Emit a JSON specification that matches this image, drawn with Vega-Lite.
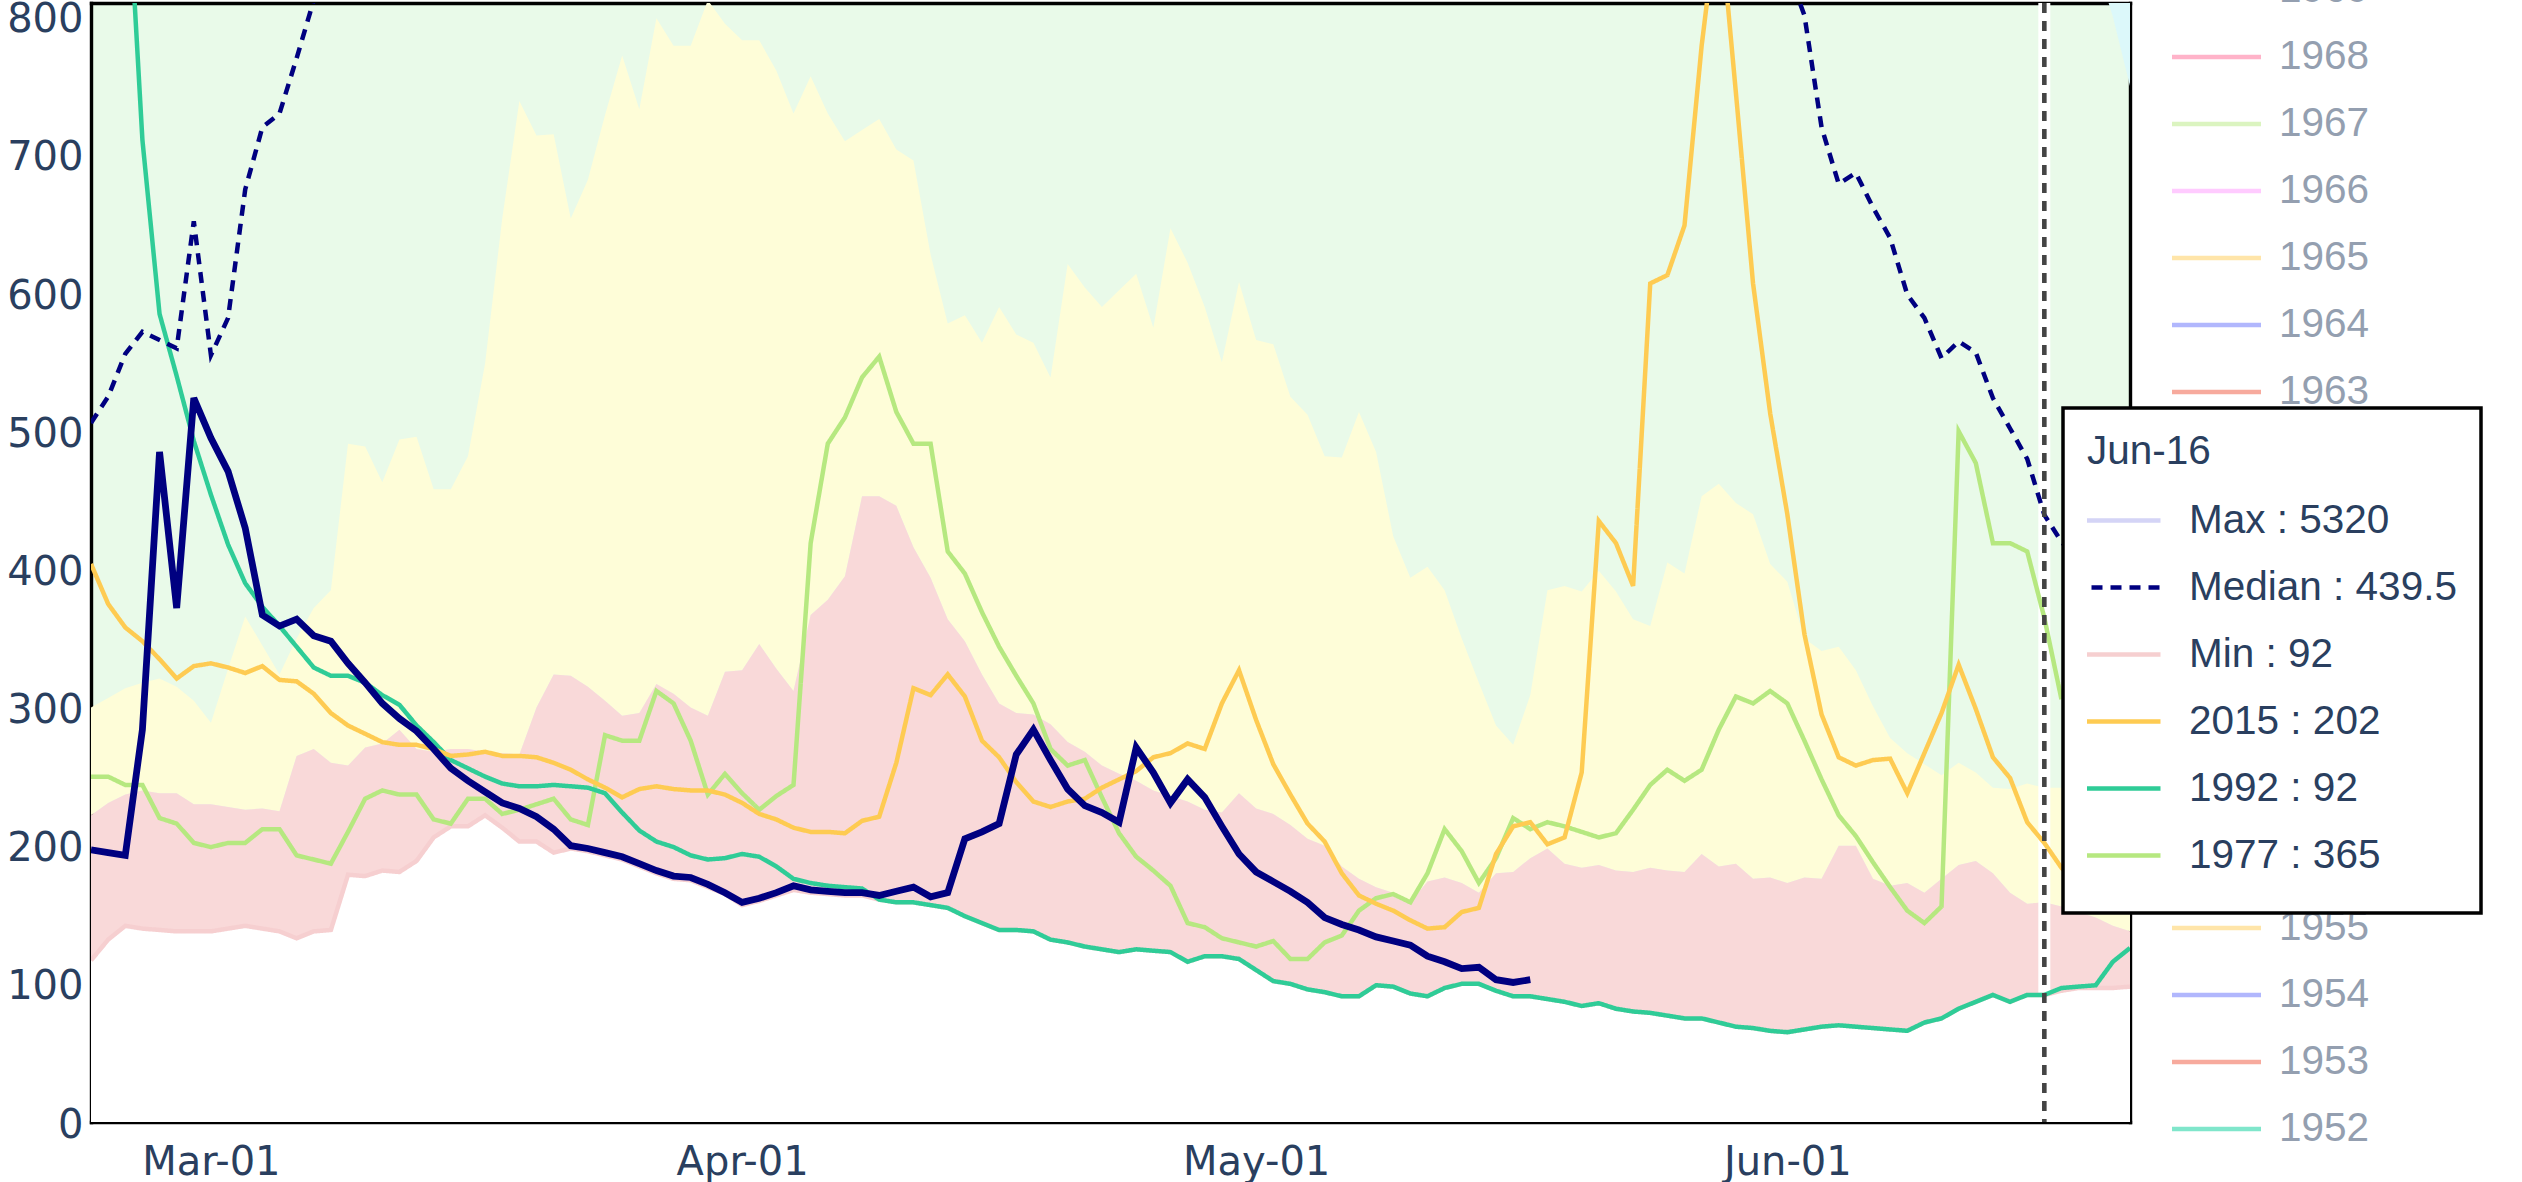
{
  "$schema": "https://vega.github.io/schema/vega-lite/v6.json",
  "width": 2039,
  "height": 1119,
  "autosize": {"type": "none"},
  "padding": {"left": 91, "top": 3, "right": 392, "bottom": 60},
  "background": "white",
  "config": {
    "view": {"fill": "#e9fae9", "stroke": null},
    "axis": {"grid": false, "ticks": false, "tickSize": 0, "domainColor": "#000000", "domainWidth": 3.4, "domainCap": "square", "labelFont": "DejaVu Sans", "labelFontSize": 40, "labelColor": "#2a3f5f", "zindex": 1, "title": null}
  },
  "datasets": {
    "marker": [{"date": "2021-06-16"}],
    "years": [{"year": "1969"}, {"year": "1968"}, {"year": "1967"}, {"year": "1966"}, {"year": "1965"}, {"year": "1964"}, {"year": "1963"}, {"year": "1962"}, {"year": "1961"}, {"year": "1960"}, {"year": "1959"}, {"year": "1958"}, {"year": "1957"}, {"year": "1956"}, {"year": "1955"}, {"year": "1954"}, {"year": "1953"}, {"year": "1952"}],
    "daily": [
      {"date": "2021-02-22", "Min": 117, "P10": 222, "P25": 300, "Median": 506, "2015": 404, "1977": 250, "Current": 197},
      {"date": "2021-02-23", "Min": 132, "P10": 231, "P25": 307, "Median": 525, "2015": 375, "1977": 250, "Current": 195},
      {"date": "2021-02-24", "Min": 142, "P10": 237, "P25": 314, "Median": 556, "2015": 358, "1992": 930, "1977": 244, "Current": 193},
      {"date": "2021-02-25", "Min": 140, "P10": 240, "P25": 318, "Median": 572, "2015": 348, "1992": 711, "1977": 244, "Current": 284},
      {"date": "2021-02-26", "Min": 139, "P10": 238, "P25": 321, "Median": 566, "2015": 335, "1992": 585, "1977": 220, "Current": 485},
      {"date": "2021-02-27", "Min": 138, "P10": 238, "P25": 315, "Median": 560, "2015": 321, "1992": 540, "1977": 216, "Current": 372},
      {"date": "2021-02-28", "Min": 138, "P10": 230, "P25": 305, "Median": 652, "2015": 330, "1992": 493, "1977": 202, "Current": 524},
      {"date": "2021-03-01", "Min": 138, "P10": 230, "P25": 289, "Median": 555, "2015": 332, "1992": 454, "1977": 199, "Current": 495},
      {"date": "2021-03-02", "Min": 140, "P10": 228, "P25": 328, "Median": 582, "2015": 329, "1992": 418, "1977": 202, "Current": 471},
      {"date": "2021-03-03", "Min": 142, "P10": 226, "P25": 366, "Median": 675, "2015": 325, "1992": 390, "1977": 202, "Current": 430},
      {"date": "2021-03-04", "Min": 140, "P10": 227, "P25": 345, "Median": 720, "2015": 330, "1992": 373, "1977": 212, "Current": 367},
      {"date": "2021-03-05", "Min": 138, "P10": 225, "P25": 324, "Median": 730, "2015": 320, "1992": 359, "1977": 212, "Current": 359},
      {"date": "2021-03-06", "Min": 133, "P10": 265, "P25": 350, "Median": 770, "2015": 319, "1992": 344, "1977": 193, "Current": 364},
      {"date": "2021-03-07", "Min": 138, "P10": 270, "P25": 372, "Median": 812, "2015": 310, "1992": 329, "1977": 190, "Current": 352},
      {"date": "2021-03-08", "Min": 139, "P10": 260, "P25": 385, "Median": 860, "2015": 296, "1992": 323, "1977": 187, "Current": 348},
      {"date": "2021-03-09", "Min": 179, "P10": 258, "P25": 491, "2015": 287, "1992": 323, "1977": 210, "Current": 332},
      {"date": "2021-03-10", "Min": 178, "P10": 271, "P25": 489, "2015": 281, "1992": 318, "1977": 234, "Current": 318},
      {"date": "2021-03-11", "Min": 182, "P10": 274, "P25": 463, "2015": 275, "1992": 309, "1977": 240, "Current": 303},
      {"date": "2021-03-12", "Min": 181, "P10": 284, "P25": 494, "2015": 273, "1992": 302, "1977": 237, "Current": 292},
      {"date": "2021-03-13", "Min": 189, "P10": 270, "P25": 496, "2015": 273, "1992": 287, "1977": 237, "Current": 283},
      {"date": "2021-03-14", "Min": 206, "P10": 268, "P25": 458, "2015": 270, "1992": 275, "1977": 219, "Current": 270},
      {"date": "2021-03-15", "Min": 214, "P10": 270, "P25": 458, "2015": 265, "1992": 262, "1977": 216, "Current": 256},
      {"date": "2021-03-16", "Min": 214, "P10": 270, "P25": 482, "2015": 266, "1992": 256, "1977": 234, "Current": 247},
      {"date": "2021-03-17", "Min": 222, "P10": 268, "P25": 549, "2015": 268, "1992": 250, "1977": 234, "Current": 239},
      {"date": "2021-03-18", "Min": 213, "P10": 267, "P25": 654, "2015": 265, "1992": 245, "1977": 223, "Current": 231},
      {"date": "2021-03-19", "Min": 203, "P10": 266, "P25": 739, "2015": 265, "1992": 243, "1977": 226, "Current": 227},
      {"date": "2021-03-20", "Min": 203, "P10": 300, "P25": 714, "2015": 264, "1992": 243, "1977": 230, "Current": 221},
      {"date": "2021-03-21", "Min": 195, "P10": 324, "P25": 715, "2015": 260, "1992": 244, "1977": 234, "Current": 212},
      {"date": "2021-03-22", "Min": 198, "P10": 323, "P25": 654, "2015": 255, "1992": 243, "1977": 219, "Current": 200},
      {"date": "2021-03-23", "Min": 196, "P10": 315, "P25": 682, "2015": 248, "1992": 242, "1977": 215, "Current": 198},
      {"date": "2021-03-24", "Min": 193, "P10": 305, "P25": 729, "2015": 242, "1992": 238, "1977": 280, "Current": 195},
      {"date": "2021-03-25", "Min": 190, "P10": 294, "P25": 772, "2015": 235, "1992": 224, "1977": 276, "Current": 192},
      {"date": "2021-03-26", "Min": 185, "P10": 296, "P25": 733, "2015": 241, "1992": 211, "1977": 276, "Current": 187},
      {"date": "2021-03-27", "Min": 180, "P10": 317, "P25": 799, "2015": 243, "1992": 203, "1977": 312, "Current": 182},
      {"date": "2021-03-28", "Min": 176, "P10": 310, "P25": 779, "2015": 241, "1992": 199, "1977": 303, "Current": 178},
      {"date": "2021-03-29", "Min": 175, "P10": 300, "P25": 779, "2015": 240, "1992": 193, "1977": 276, "Current": 177},
      {"date": "2021-03-30", "Min": 170, "P10": 294, "P25": 812, "2015": 240, "1992": 190, "1977": 237, "Current": 172},
      {"date": "2021-03-31", "Min": 165, "P10": 326, "P25": 795, "2015": 237, "1992": 191, "1977": 252, "Current": 166},
      {"date": "2021-04-01", "Min": 157, "P10": 327, "P25": 783, "2015": 231, "1992": 194, "1977": 238, "Current": 159},
      {"date": "2021-04-02", "Min": 160, "P10": 346, "P25": 783, "2015": 223, "1992": 192, "1977": 226, "Current": 162},
      {"date": "2021-04-03", "Min": 164, "P10": 328, "P25": 761, "2015": 219, "1992": 185, "1977": 236, "Current": 166},
      {"date": "2021-04-04", "Min": 168, "P10": 312, "P25": 730, "2015": 213, "1992": 176, "1977": 244, "Current": 171},
      {"date": "2021-04-05", "Min": 166, "P10": 367, "P25": 757, "2015": 210, "1992": 173, "1977": 419, "Current": 168},
      {"date": "2021-04-06", "Min": 165, "P10": 378, "P25": 730, "2015": 210, "1992": 171, "1977": 491, "Current": 167},
      {"date": "2021-04-07", "Min": 164, "P10": 395, "P25": 710, "2015": 209, "1992": 170, "1977": 510, "Current": 166},
      {"date": "2021-04-08", "Min": 164, "P10": 453, "P25": 718, "2015": 218, "1992": 169, "1977": 539, "Current": 166},
      {"date": "2021-04-09", "Min": 161, "P10": 453, "P25": 726, "2015": 221, "1992": 161, "1977": 554, "Current": 164},
      {"date": "2021-04-10", "Min": 159, "P10": 446, "P25": 704, "2015": 260, "1992": 159, "1977": 514, "Current": 167},
      {"date": "2021-04-11", "Min": 159, "P10": 416, "P25": 696, "2015": 314, "1992": 159, "1977": 491, "Current": 170},
      {"date": "2021-04-12", "Min": 157, "P10": 394, "P25": 628, "2015": 309, "1992": 157, "1977": 491, "Current": 163},
      {"date": "2021-04-13", "Min": 155, "P10": 364, "P25": 578, "2015": 324, "1992": 155, "1977": 413, "Current": 166},
      {"date": "2021-04-14", "Min": 149, "P10": 348, "P25": 584, "2015": 308, "1992": 149, "1977": 397, "Current": 205},
      {"date": "2021-04-15", "Min": 144, "P10": 324, "P25": 564, "2015": 276, "1992": 144, "1977": 369, "Current": 210},
      {"date": "2021-04-16", "Min": 139, "P10": 303, "P25": 590, "2015": 264, "1992": 139, "1977": 344, "Current": 216},
      {"date": "2021-04-17", "Min": 139, "P10": 296, "P25": 570, "2015": 246, "1992": 139, "1977": 323, "Current": 266},
      {"date": "2021-04-18", "Min": 138, "P10": 295, "P25": 564, "2015": 232, "1992": 138, "1977": 303, "Current": 284},
      {"date": "2021-04-19", "Min": 132, "P10": 288, "P25": 539, "2015": 228, "1992": 132, "1977": 270, "Current": 262},
      {"date": "2021-04-20", "Min": 130, "P10": 275, "P25": 621, "2015": 232, "1992": 130, "1977": 258, "Current": 241},
      {"date": "2021-04-21", "Min": 127, "P10": 268, "P25": 604, "2015": 234, "1992": 127, "1977": 262, "Current": 229},
      {"date": "2021-04-22", "Min": 125, "P10": 258, "P25": 590, "2015": 242, "1992": 125, "1977": 235, "Current": 224},
      {"date": "2021-04-23", "Min": 123, "P10": 252, "P25": 602, "2015": 248, "1992": 123, "1977": 209, "Current": 217},
      {"date": "2021-04-24", "Min": 125, "P10": 247, "P25": 614, "2015": 254, "1992": 125, "1977": 192, "Current": 271},
      {"date": "2021-04-25", "Min": 124, "P10": 240, "P25": 575, "2015": 264, "1992": 124, "1977": 182, "Current": 253},
      {"date": "2021-04-26", "Min": 123, "P10": 236, "P25": 647, "2015": 267, "1992": 123, "1977": 171, "Current": 231},
      {"date": "2021-04-27", "Min": 116, "P10": 232, "P25": 622, "2015": 274, "1992": 116, "1977": 144, "Current": 248},
      {"date": "2021-04-28", "Min": 120, "P10": 226, "P25": 590, "2015": 270, "1992": 120, "1977": 141, "Current": 235},
      {"date": "2021-04-29", "Min": 120, "P10": 224, "P25": 550, "2015": 303, "1992": 120, "1977": 133, "Current": 214},
      {"date": "2021-04-30", "Min": 118, "P10": 238, "P25": 608, "2015": 327, "1992": 118, "1977": 130, "Current": 194},
      {"date": "2021-05-01", "Min": 110, "P10": 227, "P25": 566, "2015": 291, "1992": 110, "1977": 127, "Current": 181},
      {"date": "2021-05-02", "Min": 102, "P10": 223, "P25": 563, "2015": 259, "1992": 102, "1977": 131, "Current": 174},
      {"date": "2021-05-03", "Min": 100, "P10": 215, "P25": 525, "2015": 237, "1992": 100, "1977": 118, "Current": 167},
      {"date": "2021-05-04", "Min": 96, "P10": 205, "P25": 512, "2015": 216, "1992": 96, "1977": 118, "Current": 159},
      {"date": "2021-05-05", "Min": 94, "P10": 200, "P25": 482, "2015": 203, "1992": 94, "1977": 130, "Current": 148},
      {"date": "2021-05-06", "Min": 91, "P10": 185, "P25": 481, "2015": 180, "1992": 91, "1977": 135, "Current": 143},
      {"date": "2021-05-07", "Min": 91, "P10": 176, "P25": 514, "2015": 164, "1992": 91, "1977": 153, "Current": 139},
      {"date": "2021-05-08", "Min": 99, "P10": 170, "P25": 485, "2015": 158, "1992": 99, "1977": 162, "Current": 134},
      {"date": "2021-05-09", "Min": 98, "P10": 166, "P25": 424, "2015": 153, "1992": 98, "1977": 165, "Current": 131},
      {"date": "2021-05-10", "Min": 93, "P10": 159, "P25": 394, "2015": 146, "1992": 93, "1977": 159, "Current": 128},
      {"date": "2021-05-11", "Min": 91, "P10": 174, "P25": 402, "2015": 140, "1992": 91, "1977": 180, "Current": 120},
      {"date": "2021-05-12", "Min": 97, "P10": 177, "P25": 385, "2015": 141, "1992": 97, "1977": 212, "Current": 116},
      {"date": "2021-05-13", "Min": 100, "P10": 173, "P25": 350, "2015": 152, "1992": 100, "1977": 196, "Current": 111},
      {"date": "2021-05-14", "Min": 100, "P10": 166, "P25": 318, "2015": 155, "1992": 100, "1977": 173, "Current": 112},
      {"date": "2021-05-15", "Min": 95, "P10": 180, "P25": 287, "2015": 194, "1992": 95, "1977": 191, "Current": 103},
      {"date": "2021-05-16", "Min": 91, "P10": 181, "P25": 273, "2015": 214, "1992": 91, "1977": 220, "Current": 101},
      {"date": "2021-05-17", "Min": 91, "P10": 191, "P25": 309, "2015": 217, "1992": 91, "1977": 212, "Current": 103},
      {"date": "2021-05-18", "Min": 89, "P10": 198, "P25": 385, "2015": 201, "1992": 89, "1977": 217},
      {"date": "2021-05-19", "Min": 87, "P10": 187, "P25": 388, "2015": 206, "1992": 87, "1977": 214},
      {"date": "2021-05-20", "Min": 84, "P10": 184, "P25": 384, "2015": 253, "1992": 84, "1977": 210},
      {"date": "2021-05-21", "Min": 86, "P10": 186, "P25": 399, "2015": 435, "1992": 86, "1977": 206},
      {"date": "2021-05-22", "Min": 82, "P10": 182, "P25": 384, "2015": 419, "1992": 82, "1977": 209},
      {"date": "2021-05-23", "Min": 80, "P10": 181, "P25": 364, "2015": 388, "1992": 80, "1977": 226},
      {"date": "2021-05-24", "Min": 79, "P10": 184, "P25": 359, "2015": 607, "1992": 79, "1977": 244},
      {"date": "2021-05-25", "Min": 77, "P10": 182, "P25": 405, "2015": 613, "1992": 77, "1977": 255},
      {"date": "2021-05-26", "Min": 75, "P10": 181, "P25": 397, "2015": 649, "1992": 75, "1977": 247},
      {"date": "2021-05-27", "Min": 75, "P10": 194, "P25": 453, "2015": 779, "1992": 75, "1977": 255},
      {"date": "2021-05-28", "Min": 72, "P10": 185, "P25": 462, "2015": 880, "1992": 72, "1977": 284},
      {"date": "2021-05-29", "Min": 69, "P10": 187, "P25": 448, "2015": 745, "1992": 69, "1977": 308},
      {"date": "2021-05-30", "Min": 68, "P10": 176, "P25": 440, "2015": 607, "1992": 68, "1977": 303},
      {"date": "2021-05-31", "Min": 66, "P10": 177, "P25": 404, "2015": 513, "1992": 66, "1977": 312},
      {"date": "2021-06-01", "Min": 65, "P10": 173, "P25": 391, "Median": 835, "2015": 440, "1992": 65, "1977": 303},
      {"date": "2021-06-02", "Min": 67, "P10": 177, "P25": 350, "Median": 801, "2015": 353, "1992": 67, "1977": 276},
      {"date": "2021-06-03", "Min": 69, "P10": 176, "P25": 341, "Median": 720, "2015": 295, "1992": 69, "1977": 248},
      {"date": "2021-06-04", "Min": 70, "P10": 200, "P25": 344, "Median": 679, "2015": 264, "1992": 70, "1977": 222},
      {"date": "2021-06-05", "Min": 69, "P10": 200, "P25": 327, "Median": 687, "2015": 258, "1992": 69, "1977": 207},
      {"date": "2021-06-06", "Min": 68, "P10": 176, "P25": 301, "Median": 662, "2015": 262, "1992": 68, "1977": 188},
      {"date": "2021-06-07", "Min": 67, "P10": 171, "P25": 278, "Median": 640, "2015": 263, "1992": 67, "1977": 170},
      {"date": "2021-06-08", "Min": 66, "P10": 173, "P25": 267, "Median": 599, "2015": 238, "1992": 66, "1977": 153},
      {"date": "2021-06-09", "Min": 72, "P10": 166, "P25": 259, "Median": 582, "2015": 267, "1992": 72, "1977": 144},
      {"date": "2021-06-10", "Min": 75, "P10": 176, "P25": 251, "Median": 553, "2015": 296, "1992": 75, "1977": 156},
      {"date": "2021-06-11", "Min": 82, "P10": 186, "P25": 260, "Median": 565, "2015": 331, "1992": 82, "1977": 500},
      {"date": "2021-06-12", "Min": 87, "P10": 189, "P25": 253, "Median": 557, "2015": 299, "1992": 87, "1977": 477},
      {"date": "2021-06-13", "Min": 92, "P10": 180, "P25": 242, "Median": 524, "2015": 264, "1992": 92, "1977": 419},
      {"date": "2021-06-14", "Min": 87, "P10": 166, "P25": 241, "Median": 502, "2015": 249, "1992": 87, "1977": 419},
      {"date": "2021-06-15", "Min": 92, "P10": 158, "P25": 245, "Median": 480, "2015": 217, "1992": 92, "1977": 413},
      {"date": "2021-06-16", "Min": 92, "P10": 159, "P25": 242, "Median": 439.5, "2015": 202, "1992": 92, "1977": 365, "Max": 5320},
      {"date": "2021-06-17", "Min": 95, "P10": 156, "P25": 242, "Median": 420, "2015": 184, "1992": 97, "1977": 306},
      {"date": "2021-06-18", "Min": 97, "P10": 152, "P25": 243, "Median": 405, "2015": 172, "1992": 98, "P75": 860, "Max": 5100},
      {"date": "2021-06-19", "Min": 97, "P10": 148, "P25": 244, "Median": 395, "2015": 163, "1992": 99, "P75": 840, "Max": 4900},
      {"date": "2021-06-20", "Min": 97, "P10": 142, "P25": 244, "Median": 385, "2015": 157, "1992": 116, "P75": 800, "Max": 4700},
      {"date": "2021-06-21", "Min": 98, "P10": 138, "P25": 245, "Median": 375, "2015": 152, "1992": 126, "P75": 750, "Max": 4500}
    ]
  },
  "layer": [
    {
      "data": {"name": "daily"},
      "mark": {"type": "area", "color": "#fefdd8", "clip": true},
      "encoding": {
        "x": {"field": "date", "type": "temporal",
          "scale": {"type": "utc", "domain": [{"year": 2021, "month": 2, "date": 22, "utc": true}, {"year": 2021, "month": 6, "date": 21, "utc": true}], "nice": false},
          "axis": {"orient": "bottom", "values": [{"year": 2021, "month": 3, "date": 1, "utc": true}, {"year": 2021, "month": 4, "date": 1, "utc": true}, {"year": 2021, "month": 5, "date": 1, "utc": true}, {"year": 2021, "month": 6, "date": 1, "utc": true}], "format": "%b-%d", "labelPadding": 20, "labelFlush": false, "labelOverlap": false}},
        "y": {"field": "P25", "type": "quantitative",
          "scale": {"domain": [0, 810], "nice": false, "zero": false},
          "axis": {"orient": "left", "values": [0, 100, 200, 300, 400, 500, 600, 700, 800], "labelPadding": 8, "labelOffset": 3}},
        "y2": {"field": "P10"}
      }
    },
    {
      "data": {"name": "daily"},
      "mark": {"type": "area", "color": "#f9d9d9", "clip": true},
      "encoding": {
        "x": {"field": "date", "type": "temporal", "axis": {"orient": "top", "labels": false, "domain": true}},
        "y": {"field": "P10", "type": "quantitative", "axis": {"orient": "right", "labels": false, "domain": true}},
        "y2": {"field": "Min"}
      }
    },
    {
      "data": {"name": "daily"},
      "mark": {"type": "area", "color": "#ffffff", "clip": true},
      "encoding": {
        "x": {"field": "date", "type": "temporal", "axis": null},
        "y": {"field": "Min", "type": "quantitative", "axis": null},
        "y2": {"datum": 0}
      }
    },
    {
      "data": {"name": "daily"},
      "mark": {"type": "area", "color": "#dcf8fa", "clip": true},
      "encoding": {
        "x": {"field": "date", "type": "temporal", "axis": null},
        "y": {"field": "Max", "type": "quantitative", "axis": null},
        "y2": {"field": "P75"}
      }
    },
    {
      "data": {"name": "marker"},
      "mark": {"type": "rule", "color": "#ffffff", "strokeWidth": 12},
      "encoding": {"x": {"field": "date", "type": "temporal", "axis": null}}
    },
    {
      "data": {"name": "daily"},
      "transform": [{"fold": ["Min", "Max", "1977", "1992", "2015", "Median"], "as": ["series", "value"]}],
      "mark": {"type": "line", "strokeWidth": 4.5, "clip": true},
      "encoding": {
        "x": {"field": "date", "type": "temporal", "axis": null},
        "y": {"field": "value", "type": "quantitative", "axis": null},
        "color": {"field": "series", "type": "nominal",
          "scale": {"domain": ["Max", "Median", "Min", "2015", "1992", "1977"], "range": ["#d4d4f6", "#000080", "#f6cfd0", "#fecb52", "#2fcc97", "#b6e880"]},
          "legend": {"orient": "none", "legendX": 1972, "legendY": 405, "zindex": 2, "title": "Jun-16", "titleFont": "Liberation Sans", "titleFontSize": 40.5, "titleFontWeight": "normal", "titleColor": "#2a3f5f", "titlePadding": 15, "symbolType": "stroke", "symbolSize": 7744, "symbolStrokeWidth": 4.5, "symbolOffset": -17, "labelFont": "Liberation Sans", "labelFontSize": 40.5, "labelColor": "#2a3f5f", "labelOffset": 26, "labelLimit": 600, "clipHeight": 66.2, "rowPadding": 0, "padding": 24, "fillColor": "#ffffff", "strokeColor": "#000000",
            "labelExpr": "{'Max': 'Max : 5320', 'Median': 'Median : 439.5', 'Min': 'Min : 92', '2015': '2015 : 202', '1992': '1992 : 92', '1977': '1977 : 365'}[datum.label]",
            "encode": {"legend": {"update": {"strokeWidth": {"value": 3.5}}}}}},
        "strokeDash": {"field": "series", "type": "nominal",
          "scale": {"domain": ["Max", "Median", "Min", "2015", "1992", "1977"], "range": [[1, 0], [11, 8], [1, 0], [1, 0], [1, 0], [1, 0]]},
          "legend": {"orient": "none", "legendX": 1972, "legendY": 405, "zindex": 2, "title": "Jun-16", "titleFont": "Liberation Sans", "titleFontSize": 40.5, "titleFontWeight": "normal", "titleColor": "#2a3f5f", "titlePadding": 15, "symbolType": "stroke", "symbolSize": 7744, "symbolStrokeWidth": 4.5, "symbolOffset": -17, "labelFont": "Liberation Sans", "labelFontSize": 40.5, "labelColor": "#2a3f5f", "labelOffset": 26, "labelLimit": 600, "clipHeight": 66.2, "rowPadding": 0, "padding": 24, "fillColor": "#ffffff", "strokeColor": "#000000",
            "labelExpr": "{'Max': 'Max : 5320', 'Median': 'Median : 439.5', 'Min': 'Min : 92', '2015': '2015 : 202', '1992': '1992 : 92', '1977': '1977 : 365'}[datum.label]",
            "encode": {"legend": {"update": {"strokeWidth": {"value": 3.5}}}}}}
      }
    },
    {
      "data": {"name": "daily"},
      "mark": {"type": "line", "color": "#000080", "strokeWidth": 6.8, "clip": true},
      "encoding": {
        "x": {"field": "date", "type": "temporal", "axis": null},
        "y": {"field": "Current", "type": "quantitative", "axis": null}
      }
    },
    {
      "data": {"name": "marker"},
      "mark": {"type": "rule", "color": "#444444", "strokeWidth": 4.6, "strokeDash": [10, 8]},
      "encoding": {"x": {"field": "date", "type": "temporal", "axis": null}}
    },
    {
      "data": {"name": "years"},
      "mark": {"type": "line", "strokeWidth": 4.5, "clip": true},
      "encoding": {
        "x": {"field": "date", "type": "temporal", "axis": null},
        "y": {"field": "value", "type": "quantitative", "axis": null},
        "stroke": {"field": "year", "type": "nominal",
          "scale": {"domain": ["1969", "1968", "1967", "1966", "1965", "1964", "1963", "1962", "1961", "1960", "1959", "1958", "1957", "1956", "1955", "1954", "1953", "1952"],
            "range": ["#8ce9f9", "#ffb3c9", "#dbf4c0", "#ffcbff", "#ffe5a9", "#b1b7fd", "#f7aa9d", "#80e6cb", "#d5b1fd", "#ffd0ad", "#8ce9f9", "#ffb3c9", "#dbf4c0", "#ffcbff", "#ffe5a9", "#b1b7fd", "#f7aa9d", "#80e6cb"]},
          "legend": {"orient": "none", "legendX": 2078.5, "legendY": -46, "zindex": 1, "title": null, "symbolType": "stroke", "symbolSize": 7921, "symbolStrokeWidth": 4.5, "labelFont": "Liberation Sans", "labelFontSize": 40.5, "labelColor": "#949fb0", "labelOffset": 15.5, "labelLimit": 300, "clipHeight": 66.2, "rowPadding": 0, "padding": 0}}
      }
    }
  ],
  "resolve": {"axis": {"x": "independent", "y": "independent"}}
}
